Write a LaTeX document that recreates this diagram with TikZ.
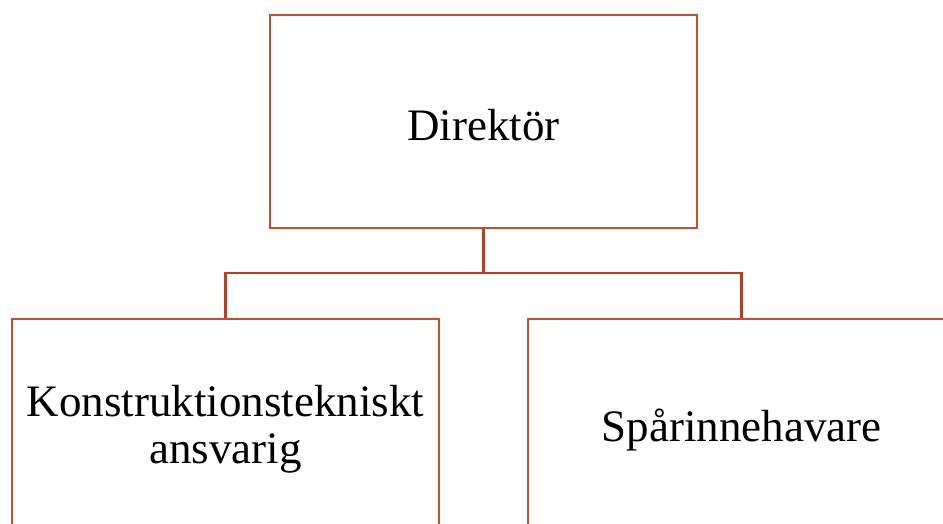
\documentclass[tikz,border=0pt]{standalone}
\usepackage{fontspec}
\setmainfont{Liberation Serif}
\definecolor{boxline}{RGB}{198,78,46}
\definecolor{linkline}{RGB}{178,64,40}
\begin{document}
\begin{tikzpicture}[x=1pt,y=-1pt,
  orgbox/.style={draw=boxline,line width=2.6pt,rectangle,minimum width=427pt,minimum height=213pt,
    inner sep=0pt},
  boxtext/.style={label={[yshift=-4pt,align=center,inner sep=0pt,font=\fontsize{45}{47}\selectfont]center:#1}},
  link/.style={draw=linkline,line width=2.6pt}]
\useasboundingbox (0,0) rectangle (943,524);
\clip (0,0) rectangle (943,524);
\node[orgbox,boxtext={Direktör}] (top) at (483.5,121.5) {};
\node[orgbox,boxtext={Konstruktionstekniskt\\ansvarig}] (left) at (225.5,425.5) {};
\node[orgbox,boxtext={Spårinnehavare}] (right) at (741.5,425.5) {};
\coordinate (mid) at (483.5,273);
\draw[link] (top.south) -- (mid) -| (left.north);
\draw[link] (mid) -| (right.north);
\end{tikzpicture}
\end{document}
